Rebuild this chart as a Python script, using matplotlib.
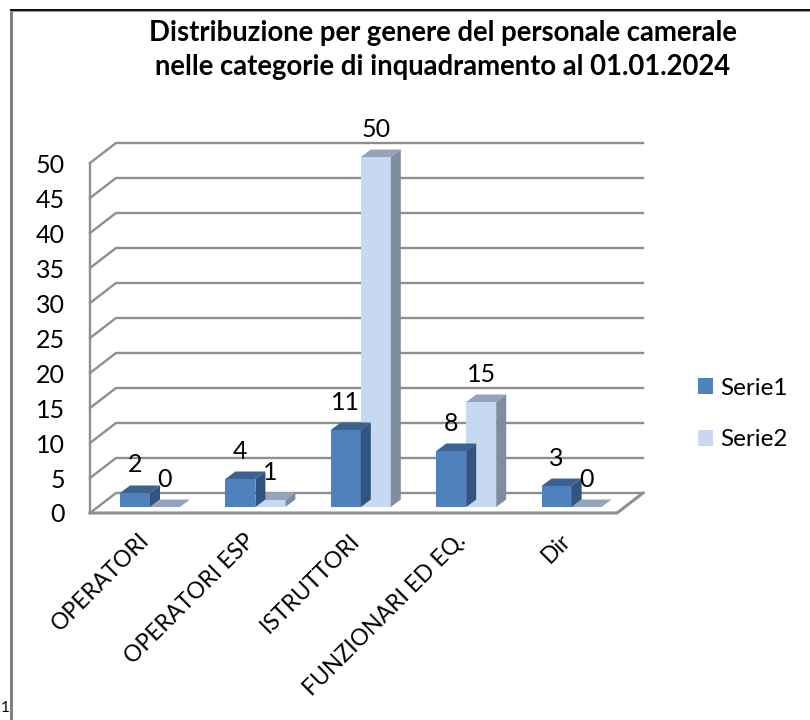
import matplotlib
matplotlib.use("Agg")
import matplotlib.pyplot as plt
from matplotlib.patches import Polygon, Patch, Rectangle
from matplotlib.transforms import ScaledTranslation

plt.rcParams['font.family'] = ['Lato', 'DejaVu Sans']

categories = ["OPERATORI", "OPERATORI ESP", "ISTRUTTORI", "FUNZIONARI ED EQ.", "Dir"]
serie1 = [2, 4, 11, 8, 3]
serie2 = [0, 1, 50, 15, 0]
yticks = [0, 5, 10, 15, 20, 25, 30, 35, 40, 45, 50]
title = "Distribuzione per genere del personale camerale\nnelle categorie di inquadramento al 01.01.2024"

W, H = 810, 720
fig = plt.figure(figsize=(W / 100, H / 100), dpi=100)
fig.patch.set_facecolor("white")

# page frame of the pasted chart
fig.add_artist(Rectangle((10 / W, -0.01), 2.5 / W, 1 - 9 / H + 0.01, transform=fig.transFigure, color="#808080", lw=0))
fig.add_artist(Rectangle((10 / W, 1 - 12 / H), 1, 2 / H, transform=fig.transFigure, color="#9a9a9a", lw=0))
fig.add_artist(Rectangle((10 / W, 1 - 10.5 / H), 1, 1.5 / H, transform=fig.transFigure, color="#111111", lw=0))
fig.text(1 / W, 1 - 708 / H, "1", fontsize=11, va="center", ha="left")

ax = fig.add_axes([90 / W, (H - 513) / H, 527 / W, 350 / H])
ax.set_xlim(-0.5, 4.5)
ax.set_ylim(0, 50)
for s in ax.spines.values():
    s.set_visible(False)
ax.patch.set_visible(False)

# depth of the box and of the bars, in data units
box_dx, box_dy = 26 / 105.4, 20 / 7
bar_dx, bar_dy = 10 / 105.4, 7.5 / 7
bar_w = 30 / 105.4
base = 6 / 7
grid_col = "#8f8f8f"

for v in yticks:
    ax.plot([-0.5, -0.5 + box_dx, 4.5 + box_dx], [v, v + box_dy, v + box_dy],
            color=grid_col, lw=1.7, clip_on=False, zorder=1, solid_joinstyle="miter")
ax.plot([-0.5, -0.5], [0, 50], color=grid_col, lw=1.7, clip_on=False, zorder=1)
ax.plot([-0.5, 4.5, 4.5 + box_dx], [0, 0, box_dy], color=grid_col, lw=2.2, clip_on=False, zorder=1)


def bar3d(x, h, front, top, side, z):
    y0 = base
    y1 = base + h
    ax.add_patch(Polygon([(x, y0), (x + bar_w, y0), (x + bar_w, y1), (x, y1)], fc=front, ec="none", clip_on=False, zorder=z))
    ax.add_patch(Polygon([(x, y1), (x + bar_w, y1), (x + bar_w + bar_dx, y1 + bar_dy), (x + bar_dx, y1 + bar_dy)], fc=top, ec="none", clip_on=False, zorder=z))
    ax.add_patch(Polygon([(x + bar_w, y0), (x + bar_w + bar_dx, y0 + bar_dy), (x + bar_w + bar_dx, y1 + bar_dy), (x + bar_w, y1)], fc=side, ec="none", clip_on=False, zorder=z))


for i in range(len(categories)):
    x1 = i - 0.5 + 30 / 105.4
    x2 = x1 + bar_w
    bar3d(x2, serie2[i], "#c6d9f1", "#94a5bb", "#7f8d9f", 2 + i * 0.1)
    bar3d(x1, serie1[i], "#4f81bd", "#3c6291", "#325480", 2.05 + i * 0.1)
    ax.text(x1 + bar_w / 2, base + serie1[i] + 4, str(serie1[i]), fontsize=18, ha="center", va="center", zorder=5, clip_on=False)
    ax.text(x2 + bar_w / 2, base + serie2[i] + 4, str(serie2[i]), fontsize=18, ha="center", va="center", zorder=5, clip_on=False)

ax.set_yticks(yticks)
ax.set_xticks(range(len(categories)))
ax.set_xticklabels(categories, rotation=45, ha="right", rotation_mode="anchor", fontsize=16.5)
ax.tick_params(axis="both", length=0)
ax.tick_params(axis="y", labelsize=18, pad=18)
ax.tick_params(axis="x", pad=12)
shift = ScaledTranslation(-4 / 100, 0, fig.dpi_scale_trans)
for lab in ax.get_xticklabels():
    lab.set_transform(lab.get_transform() + shift)

fig.text(443 / W, 1 - 50 / H, title, fontsize=19.8, fontweight="bold", ha="center", va="center", linespacing=1.36)

handles = [Patch(fc="#4f81bd", ec="none", label="Serie1"), Patch(fc="#c6d9f1", ec="none", label="Serie2")]
fig.legend(handles=handles, loc="center left", bbox_to_anchor=(698 / W, 1 - 414 / H), frameon=False, borderpad=0, borderaxespad=0,
           fontsize=17.5, handlelength=0.62, handleheight=0.62, handletextpad=0.3, labelspacing=1.25)

fig.savefig("out.png", dpi=100)
